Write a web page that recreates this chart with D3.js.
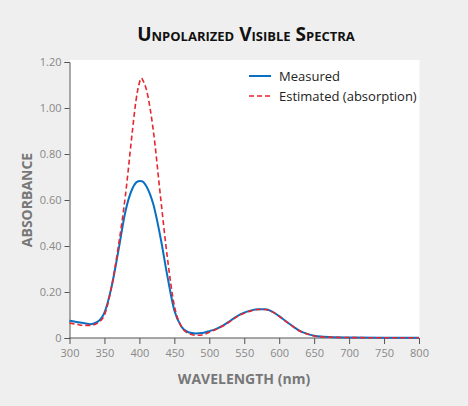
<!DOCTYPE html><html><head><script src="https://d3js.org/d3.v7.min.js"></script>
<style>body{margin:0;background:#efefef}</style></head><body><svg id="c" width="468" height="406"></svg>
<script>
const wavelengths=[300,310,320,330,340,350,360,370,380,390,395,400,403,405,410,420,430,440,450,460,470,480,490,500,510,520,530,540,550,560,570,580,590,600,610,620,630,640,650,660,680,700,750,800];
const measured=[0.075,0.07,0.065,0.06,0.07,0.11,0.22,0.38,0.55,0.65,0.675,0.683,0.682,0.68,0.66,0.58,0.44,0.27,0.12,0.05,0.025,0.02,0.022,0.03,0.04,0.055,0.075,0.095,0.11,0.12,0.125,0.125,0.115,0.095,0.072,0.05,0.03,0.018,0.01,0.006,0.003,0.002,0.001,0.001];
const estimated=[0.065,0.06,0.055,0.055,0.065,0.1,0.22,0.40,0.62,0.9,1.03,1.11,1.13,1.12,1.08,0.90,0.62,0.35,0.14,0.05,0.02,0.012,0.013,0.025,0.038,0.053,0.073,0.093,0.108,0.118,0.124,0.124,0.114,0.094,0.071,0.049,0.029,0.017,0.009,0.005,0.003,0.002,0.001,0.001];
const yTicks=[0,0.2,0.4,0.6,0.8,1.0,1.2];
const xTicks=[300,350,400,450,500,550,600,650,700,750,800];
const svg=d3.select("#c");
const x=d3.scaleLinear().domain([300,800]).range([69.5,419]);
const y=d3.scaleLinear().domain([0,1.2]).range([338,62]);
svg.append("rect").attr("x",69.5).attr("y",60).attr("width",350).attr("height",278).attr("fill","#fff");
svg.append("text").attr("x",246).attr("y",41).attr("text-anchor","middle").attr("font-family","Open Sans, sans-serif").attr("font-weight","bold").attr("font-size",19).attr("font-variant","small-caps").attr("fill","#111").text("Unpolarized Visible Spectra");
const gx=svg.append("g").attr("transform","translate(0,338)").call(d3.axisBottom(x).tickValues(xTicks).tickSize(6).tickFormat(d3.format("d")));
const gy=svg.append("g").attr("transform","translate(69.5,0)").call(d3.axisLeft(y).tickValues(yTicks).tickSize(5).tickFormat(d=>d===0?"0":d3.format(".2f")(d)));
[gx,gy].forEach(g=>{g.selectAll("path,line").attr("stroke","#555");g.selectAll("text").attr("fill","#888").attr("font-family","Open Sans, sans-serif").attr("font-size",11);});
gx.select(".domain").attr("d","M69.5,0H419");
gx.selectAll("text").attr("dy","0.9em");
const line=d3.line().x((d,i)=>x(wavelengths[i])).y(d=>y(d)).curve(d3.curveMonotoneX);
svg.append("path").datum(measured).attr("d",line).attr("fill","none").attr("stroke","#0a6fc2").attr("stroke-width",2);
svg.append("path").datum(estimated).attr("d",line).attr("fill","none").attr("stroke","#e8262d").attr("stroke-width",1.6).attr("stroke-dasharray","5,3");
svg.append("line").attr("x1",249).attr("x2",271).attr("y1",76).attr("y2",76).attr("stroke","#0a6fc2").attr("stroke-width",2);
svg.append("line").attr("x1",249).attr("x2",271).attr("y1",96).attr("y2",96).attr("stroke","#e8262d").attr("stroke-width",1.6).attr("stroke-dasharray","5,3");
const lf="Open Sans, sans-serif";
svg.append("text").attr("x",279).attr("y",81).attr("font-family",lf).attr("font-size",13).attr("fill","#222").text("Measured");
svg.append("text").attr("x",279).attr("y",101).attr("font-family",lf).attr("font-size",13).attr("fill","#222").text("Estimated (absorption)");
svg.append("text").attr("x",244).attr("y",384).attr("text-anchor","middle").attr("font-family",lf).attr("font-weight","bold").attr("font-size",14).attr("fill","#777").text("WAVELENGTH (nm)");
svg.append("text").attr("transform","translate(32,200) rotate(-90)").attr("text-anchor","middle").attr("font-family",lf).attr("font-weight","bold").attr("font-size",14).attr("fill","#777").text("ABSORBANCE");
</script></body></html>
